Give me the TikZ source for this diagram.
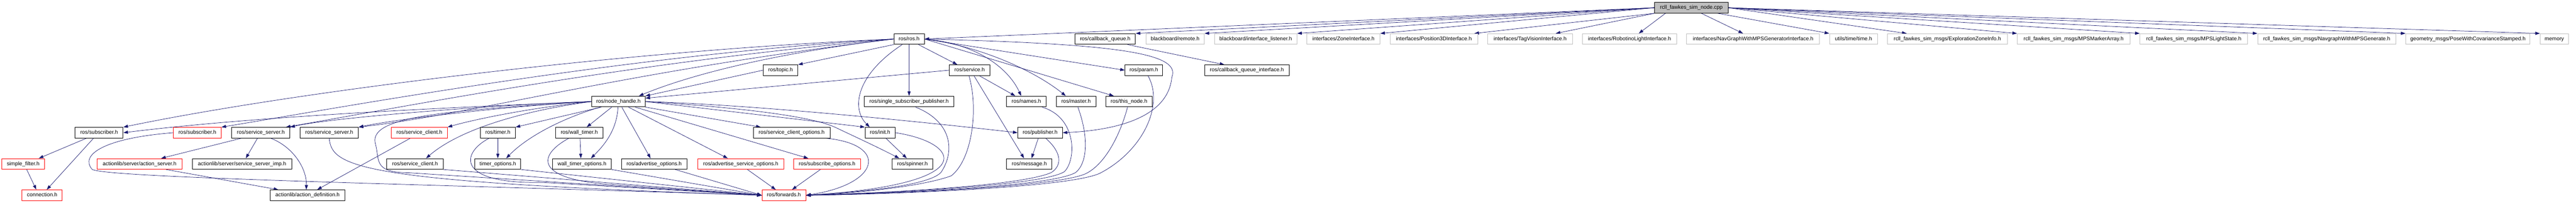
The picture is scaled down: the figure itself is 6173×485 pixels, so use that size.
\documentclass[tikz,border=0pt]{standalone}
\usepackage{fontspec}
\newfontfamily\hfont{Liberation Sans}
\usetikzlibrary{arrows.meta}
\pgfdeclarelayer{background}
\pgfsetlayers{background,main}
\definecolor{edgeblue}{HTML}{191970}
\definecolor{boxgray}{HTML}{BFBFBF}
\definecolor{boxred}{HTML}{FF0000}
\tikzset{
  hbox/.style={draw=black, fill=white, line width=1.2pt, rectangle, minimum height=25.5pt,
    inner sep=0pt, text height=9.2pt, text depth=2.6pt, font={\hfont\fontsize{12.8}{14}\selectfont}},
  hred/.style={hbox, draw=boxred},
  hgray/.style={hbox, draw=boxgray},
  hroot/.style={hbox, fill=boxgray},
  dep/.style={draw=edgeblue, line width=0.9pt, -{Triangle[length=11pt,width=7.5pt]}},
}
\begin{document}
\begin{tikzpicture}[x=1pt,y=-1pt]
\useasboundingbox (0,0) rectangle (6173,485);
% row 0
\node[hroot, minimum width=176pt] (root) at (4053,18.5) {rcll\_fawkes\_sim\_node.cpp};
% row 1
\node[hbox,  minimum width=73pt]  (ros)      at (2178.5,93.3) {ros/ros.h};
\node[hbox,  minimum width=145pt] (cbq)      at (2648.5,93.3) {ros/callback\_queue.h};
\node[hgray, minimum width=140pt] (bbremote) at (2816,93.3)   {blackboard/remote.h};
\node[hgray, minimum width=198pt] (bbil)     at (3009,93.3)   {blackboard/interface\_listener.h};
\node[hgray, minimum width=175pt] (zone)     at (3219.5,93.3) {interfaces/ZoneInterface.h};
\node[hgray, minimum width=210pt] (pos3d)    at (3436,93.3)   {interfaces/Position3DInterface.h};
\node[hgray, minimum width=203pt] (tagv)     at (3666.5,93.3) {interfaces/TagVisionInterface.h};
\node[hgray, minimum width=226pt] (robl)     at (3905,93.3)   {interfaces/RobotinoLightInterface.h};
\node[hgray, minimum width=318pt] (navgi)    at (4201,93.3)   {interfaces/NavGraphWithMPSGeneratorInterface.h};
\node[hgray, minimum width=115pt] (utime)    at (4441.5,93.3) {utils/time/time.h};
\node[hgray, minimum width=287pt] (ezi)      at (4666.5,93.3) {rcll\_fawkes\_sim\_msgs/ExplorationZoneInfo.h};
\node[hgray, minimum width=270pt] (mpsma)    at (4969,93.3)   {rcll\_fawkes\_sim\_msgs/MPSMarkerArray.h};
\node[hgray, minimum width=258pt] (mpsls)    at (5257,93.3)   {rcll\_fawkes\_sim\_msgs/MPSLightState.h};
\node[hgray, minimum width=331pt] (navgen)   at (5575.5,93.3) {rcll\_fawkes\_sim\_msgs/NavgraphWithMPSGenerate.h};
\node[hgray, minimum width=298pt] (pose)     at (5914,93.3)   {geometry\_msgs/PoseWithCovarianceStamped.h};
\node[hgray, minimum width=68pt]  (memory)   at (6121,93.3)   {memory};
% row 2
\node[hbox, minimum width=83pt]  (topic)   at (1870.5,167.8) {ros/topic.h};
\node[hbox, minimum width=97pt]  (service) at (2323.5,167.8) {ros/service.h};
\node[hbox, minimum width=90pt]  (param)   at (2741,167.8)   {ros/param.h};
\node[hbox, minimum width=202pt] (cbqi)    at (2988,167.8)   {ros/callback\_queue\_interface.h};
% row 3
\node[hbox, minimum width=128pt] (nh)       at (1482,242.7)   {ros/node\_handle.h};
\node[hbox, minimum width=215pt] (ssp)      at (2178.5,242.7) {ros/single\_subscriber\_publisher.h};
\node[hbox, minimum width=95pt]  (names)    at (2459.5,242.7) {ros/names.h};
\node[hbox, minimum width=95pt]  (master)   at (2578.5,242.7) {ros/master.h};
\node[hbox, minimum width=111pt] (thisnode) at (2705.5,242.7) {ros/this\_node.h};
% row 4
\node[hbox, minimum width=115pt] (subA)   at (237.5,317.2) {ros/subscriber.h};
\node[hred, minimum width=114pt] (subB)   at (473,317.2)   {ros/subscriber.h};
\node[hbox, minimum width=140pt] (ssA)    at (625,317.2)   {ros/service\_server.h};
\node[hbox, minimum width=140pt] (ssB)    at (789,317.2)   {ros/service\_server.h};
\node[hred, minimum width=134pt] (scA)    at (1005,317.2)  {ros/service\_client.h};
\node[hbox, minimum width=84pt]  (timer)  at (1193,317.2)  {ros/timer.h};
\node[hbox, minimum width=114pt] (wtimer) at (1388,317.2)  {ros/wall\_timer.h};
\node[hbox, minimum width=184pt] (sco)    at (1897,317.2)  {ros/service\_client\_options.h};
\node[hbox, minimum width=72pt]  (init)   at (2109,317.2)  {ros/init.h};
\node[hbox, minimum width=107pt] (pub)    at (2492.5,317.2){ros/publisher.h};
% row 5
\node[hred, minimum width=103pt] (sfilter) at (55.5,391.8)   {simple\_filter.h};
\node[hred, minimum width=203pt] (aserver) at (334.5,391.8)  {actionlib/server/action\_server.h};
\node[hbox, minimum width=238pt] (ssimp)   at (580,391.8)    {actionlib/server/service\_server\_imp.h};
\node[hbox, minimum width=135pt] (scB)     at (994.5,391.8)  {ros/service\_client.h};
\node[hbox, minimum width=110pt] (topts)   at (1193,391.8)   {timer\_options.h};
\node[hbox, minimum width=141pt] (wtopts)  at (1394.5,391.8) {wall\_timer\_options.h};
\node[hbox, minimum width=157pt] (aopts)   at (1567.5,391.8) {ros/advertise\_options.h};
\node[hred, minimum width=206pt] (asopts)  at (1775,391.8)   {ros/advertise\_service\_options.h};
\node[hred, minimum width=160pt] (subopts) at (1982,391.8)   {ros/subscribe\_options.h};
\node[hbox, minimum width=97pt]  (spinner) at (2186.5,391.8) {ros/spinner.h};
\node[hbox, minimum width=109pt] (message) at (2466.5,391.8) {ros/message.h};
% row 6
\node[hred, minimum width=96pt]  (conn) at (101,466.7)    {connection.h};
\node[hbox, minimum width=178pt] (adef) at (737,466.7)    {actionlib/action\_definition.h};
\node[hred, minimum width=105pt] (fwd)  at (1878.5,466.7) {ros/forwards.h};

\begin{pgfonlayer}{background}
% root edges
\draw[dep] (root.west) -- (ros.east);
\draw[dep] (root.west) -- (cbq.north east);
\draw[dep] (root.west) -- (bbremote.north east);
\draw[dep] (root.west) -- (bbil.north east);
\draw[dep] (root.west) -- (zone.north east);
\draw[dep] (root.south west) -- (pos3d.north -| 3533,0);
\draw[dep] (root.south west) -- (tagv.north -| 3728,0);
\draw[dep] (root.south -| 3991,0) -- (robl.north -| 3927,0);
\draw[dep] (root.south -| 4077,0) -- (navgi.north -| 4177,0);
\draw[dep] (root.south -| 4116,0) -- (utime.north west);
\draw[dep] (root.east) -- (ezi.north -| 4569,0);
\draw[dep] (root.east) -- (mpsma.north west);
\draw[dep] (root.east) -- (mpsls.north west);
\draw[dep] (root.east) -- (navgen.north west);
\draw[dep] (root.east) -- (pose.north west);
\draw[dep] (root.east) -- (memory.north west);
% ros.h edges
\draw[dep] (ros.south west) -- (topic.north east);
\draw[dep] (ros.west) .. controls (1950,115) and (1700,160) .. (nh.north -| 1531,0);
\draw[dep] (ros.south) -- (ssp.north);
\draw[dep] (ros.south -| 2162,0) .. controls (2050,180) and (2040,260) .. (init.north -| 2084,0);
\draw[dep] (ros.south -| 2201,0) -- (service.north -| 2294,0);
\draw[dep] (ros.east) .. controls (2350,105) and (2420,170) .. (names.north -| 2447,0);
\draw[dep] (ros.east) .. controls (2350,110) and (2480,170) .. (master.north -| 2554,0);
\draw[dep] (ros.east) -- (thisnode.north -| 2669,0);
\draw[dep] (ros.east) -- (param.west);
\draw[dep] (ros.east) .. controls (2700,105) and (2830,130) .. (2808,185)
   .. controls (2800,270) and (2700,310) .. (pub.east);
\draw[dep] (ros.west) .. controls (1500,120) and (700,220) .. (subA.north east);
\draw[dep] (ros.west) .. controls (1500,130) and (800,260) .. (subB.north east);
\draw[dep] (ros.west) .. controls (1500,150) and (1000,250) .. (ssA.north -| 685,0);
\draw[dep] (ros.west) .. controls (1500,170) and (1150,270) .. (ssB.north east);
% node_handle edges
\draw[dep] (nh.south -| 1441,0) -- (timer.north east);
\draw[dep] (nh.south -| 1466,0) -- (wtimer.north -| 1406,0);
\draw[dep] (nh.south -| 1438,0) .. controls (1340,285) and (1260,330) .. (topts.north -| 1213,0);
\draw[dep] (nh.south -| 1481,0) .. controls (1478,310) and (1450,345) .. (wtopts.north -| 1416,0);
\draw[dep] (nh.south -| 1490,0) -- (aopts.north -| 1559,0);
\draw[dep] (nh.south -| 1506,0) -- (asopts.north -| 1744,0);
\draw[dep] (nh.south -| 1522,0) -- (subopts.north -| 1937,0);
\draw[dep] (nh.south east) -- (sco.north -| 1823,0);
\draw[dep] (nh.east) -- (init.north west);
\draw[dep] (nh.east) .. controls (1850,262) and (1963,286) .. (2003,305)
   .. controls (2030,318) and (2100,350) .. (spinner.north -| 2155,0);
\draw[dep] (nh.east) .. controls (1800,250) and (2200,290) .. (pub.west);
\draw[dep] (nh.west) .. controls (1000,260) and (600,280) .. (subA.east);
\draw[dep] (nh.west) .. controls (1200,250) and (800,280) .. (ssA.north east);
\draw[dep] (nh.west) .. controls (1200,255) and (950,285) .. (ssB.north east);
\draw[dep] (nh.west) .. controls (1250,260) and (1120,290) .. (scA.north east);
\draw[dep] (nh.west) .. controls (1250,265) and (1100,310) .. (scB.north -| 1021,0);
\draw[dep] (nh.west) .. controls (1050,265) and (880,280) .. (900,345)
   .. controls (910,385) and (895,412) .. (980,413) -- (fwd.west);
% edges into forwards.h from the left
\draw[dep] (topts.south east) -- (fwd.west);
\draw[dep] (wtopts.south east) -- (fwd.west);
\draw[dep] (aopts.south -| 1618,0) -- (fwd.west);
\draw[dep] (asopts.south -| 1791,0) -- (fwd.north -| 1859,0);
\draw[dep] (subopts.south -| 1966,0) -- (fwd.north -| 1898,0);
\draw[dep] (timer.south -| 1172,0) .. controls (1105,365) and (1090,440) .. (1300,436) -- (fwd.west);
\draw[dep] (wtimer.south -| 1363,0) .. controls (1290,370) and (1280,425) .. (1450,440) -- (fwd.west);
\draw[dep] (subB.west) .. controls (250,330) and (190,370) .. (221,405)
   .. controls (260,425) and (1000,440) .. (fwd.west);
\draw[dep] (ssB.south) .. controls (795,400) and (860,435) .. (fwd.west);
\draw[dep] (scB.south east) -- (fwd.west);
% left cluster
\draw[dep] (subA.south -| 207,0) -- (sfilter.north -| 93,0);
\draw[dep] (subA.south -| 224,0) -- (conn.north -| 112,0);
\draw[dep] (sfilter.south -| 64,0) -- (conn.north -| 87,0);
\draw[dep] (ssA.south -| 578,0) -- (aserver.north -| 386,0);
\draw[dep] (ssA.south -| 617,0) -- (ssimp.north -| 589,0);
\draw[dep] (ssA.south -| 649,0) .. controls (700,350) and (735,400) .. (adef.north -| 734,0);
\draw[dep] (aserver.south -| 398,0) -- (adef.north -| 667,0);
\draw[dep] (scA.south -| 983,0) -- (adef.north -| 760,0);
% middle
\draw[dep] (topic.west) -- (nh.north east);
\draw[dep] (service.west) -- ([yshift=8pt]nh.east);
\draw[dep] (service.south -| 2347,0) -- (names.north -| 2433,0);
\draw[dep] (service.south -| 2334,0) -- (message.north -| 2454,0);
\draw[dep] (service.south -| 2322,0) .. controls (2345,260) and (2330,380) .. (2280,420)
   .. controls (2200,450) and (2000,465) .. (fwd.east);
\draw[dep] (names.south -| 2497,0) .. controls (2580,280) and (2580,380) .. (2551,410)
   .. controls (2500,445) and (2100,462) .. (fwd.east);
\draw[dep] (master.south -| 2583,0) .. controls (2610,330) and (2605,390) .. (2578,412)
   .. controls (2520,448) and (2100,463) .. (fwd.east);
\draw[dep] (thisnode.south -| 2702,0) .. controls (2685,320) and (2650,390) .. (2604,414)
   .. controls (2540,448) and (2100,464) .. (fwd.east);
\draw[dep] (param.south -| 2751,0) .. controls (2790,250) and (2740,360) .. (2636,414)
   .. controls (2560,450) and (2100,465) .. (fwd.east);
\draw[dep] (pub.south -| 2506,0) .. controls (2545,365) and (2545,395) .. (2520,412)
   .. controls (2450,445) and (2100,462) .. (fwd.east);
\draw[dep] (pub.south -| 2488,0) -- (message.north -| 2472,0);
\draw[dep] (ssp.south -| 2194,0) .. controls (2280,290) and (2290,360) .. (2255,412)
   .. controls (2220,450) and (2000,462) .. (fwd.east);
\draw[dep] (init.east) .. controls (2300,340) and (2360,440) .. (fwd.east);
\draw[dep] (init.south -| 2123,0) -- (spinner.north -| 2173,0);
\draw[dep] (sco.south -| 1980,0) .. controls (2130,345) and (2110,440) .. (fwd.east);
\draw[dep] (cbq.south -| 2702,0) -- (cbqi.north -| 2934,0);
\draw[dep] (timer.south) -- (topts.north);
\draw[dep] (wtimer.south -| 1390,0) -- (wtopts.north -| 1392,0);
\end{pgfonlayer}
\end{tikzpicture}
\end{document}
